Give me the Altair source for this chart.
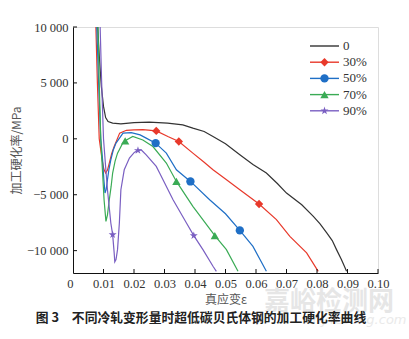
import altair as alt
import pandas as pd

series = ["0", "30%", "50%", "70%", "90%"]

x_0 = [0.0081, 0.0086, 0.0093, 0.0100, 0.0107, 0.0115, 0.0130, 0.0157, 0.0200, 0.0250, 0.0310, 0.0360,
       0.0393, 0.0430, 0.0459, 0.0500, 0.0547, 0.0590, 0.0634, 0.0670, 0.0700, 0.0750, 0.0788, 0.0810,
       0.0832, 0.0850, 0.0864, 0.0880, 0.0897]
y_0 = [10000, 7500, 4670, 2900, 1900, 1550, 1400, 1340, 1450, 1500, 1400, 1250,
       955, 650, 205, -450, -1430, -2300, -3060, -4000, -4850, -5900, -6940, -7600,
       -8420, -9100, -9910, -10800, -11850]

x_30 = [0.0075, 0.0080, 0.0086, 0.0095, 0.0101, 0.0107, 0.0113, 0.0119, 0.0127, 0.0135, 0.0153, 0.0175,
        0.0200, 0.0229, 0.0273, 0.0311, 0.0347, 0.0393, 0.0430, 0.0459, 0.0500, 0.0547, 0.0610, 0.0667,
        0.0711, 0.0766, 0.0804]
y_30 = [10000, 5000, 0, -1800, -2700, -3060, -2800, -2170, -1300, -690, 510, 760,
        800, 820, 710, 205, -240, -1280, -2100, -2770, -3600, -4550, -5830, -7230,
        -8720, -10200, -11850]

x_50 = [0.0078, 0.0084, 0.0091, 0.0097, 0.0101, 0.0105, 0.0109, 0.0113, 0.0118, 0.0124, 0.0132, 0.0141,
        0.0164, 0.0191, 0.0220, 0.0240, 0.0271, 0.0306, 0.0339, 0.0385, 0.0448, 0.0500, 0.0547, 0.0590,
        0.0634]
y_50 = [10000, 5000, 0, -1875, -3600, -4850, -4500, -3660, -2700, -1875, -1000, -385,
        510, 560, 350, 60, -385, -1280, -2770, -3810, -5450, -6700, -8190, -9620,
        -11850]

x_70 = [0.0082, 0.0086, 0.0091, 0.0097, 0.0102, 0.0108, 0.0113, 0.0119, 0.0125, 0.0130, 0.0138, 0.0146,
        0.0163, 0.0171, 0.0196, 0.0229, 0.0262, 0.0306, 0.0339, 0.0393, 0.0465, 0.0503, 0.0541]
y_70 = [10000, 5000, 0, -3060, -5500, -7380, -6800, -5450, -4260, -3060, -2000, -1280,
        -385, -180, 205, -100, -690, -2170, -3810, -6040, -8660, -9910, -11850]

x_90 = [0.0089, 0.0094, 0.0100, 0.0107, 0.0113, 0.0124, 0.0130, 0.0135, 0.0137, 0.0141, 0.0146, 0.0152,
        0.0157, 0.0168, 0.0185, 0.0201, 0.0213, 0.0224, 0.0240, 0.0273, 0.0284, 0.0328, 0.0372, 0.0396,
        0.0426, 0.0459, 0.0470]
y_90 = [10000, 5000, 0, -2500, -4550, -7530, -8570, -10200, -11000, -10800, -9910, -7530,
        -4550, -2770, -1720, -1220, -1040, -1000, -1430, -2470, -3060, -5450, -7530, -8660,
        -9910, -11400, -11850]

mark_series = ["30%", "30%", "30%", "50%", "50%", "50%", "70%", "70%", "70%", "90%", "90%", "90%"]
mark_x = [0.0273, 0.0347, 0.0610, 0.0271, 0.0385, 0.0547, 0.0171, 0.0339, 0.0465, 0.0130, 0.0213, 0.0396]
mark_y = [710, -240, -5830, -385, -3810, -8190, -180, -3810, -8660, -8570, -1040, -8660]

x_ticks = [0.00, 0.01, 0.02, 0.03, 0.04, 0.05, 0.06, 0.07, 0.08, 0.09, 0.10]
y_ticks = [-10000, -5000, 0, 5000, 10000]

caption = ["图 3　不同冷轧变形量时超低碳贝氏体钢的加工硬化率曲线"]
watermark_text = ["嘉峪检测网"]
watermark_sub = ["AnyTesting.com"]

line_colors = ["#333333", "#e8392b", "#1f6fc6", "#3aab55", "#7a5fc2"]
marker_colors = ["#333333", "#e0402a", "#1a72c8", "#4f7d32", "#4b3b9f"]
STAR = ("M0,-1L0.2245,-0.309L0.951,-0.309L0.363,0.118L0.588,0.809L0,0.382"
        "L-0.588,0.809L-0.363,0.118L-0.951,-0.309L-0.2245,-0.309Z")
shapes = ["circle", "diamond", "circle", "triangle-up", STAR]

rows = []
for s, xs, ys in zip(series, [x_0, x_30, x_50, x_70, x_90], [y_0, y_30, y_50, y_70, y_90]):
    for i, (a, b) in enumerate(zip(xs, ys)):
        rows.append({"series": s, "x": a, "y": b, "o": i})
lines_df = pd.DataFrame(rows)
marks_df = pd.DataFrame({"series": mark_series, "x": mark_x, "y": mark_y})
legend_df = pd.DataFrame({"series": series, "i": list(range(len(series)))})

W, H = 305, 246
xscale = alt.Scale(domain=[0, 0.1], nice=False, zero=False)
yscale = alt.Scale(domain=[-12000, 10000], nice=False, zero=False)
line_color = alt.Color("series:N", scale=alt.Scale(domain=series, range=line_colors), legend=None)
mark_color = alt.Color("series:N", scale=alt.Scale(domain=series, range=marker_colors), legend=None)
mark_shape = alt.Shape("series:N", scale=alt.Scale(domain=series, range=shapes), legend=None)

serif = "Liberation Serif, Times New Roman, serif"
cjk = "Noto Sans CJK SC"

x_axis = alt.Axis(
    values=x_ticks, ticks=False, grid=False, domainColor="#111", domainWidth=1,
    labelFont=serif, labelFontSize=12.5, labelColor="#333", labelPadding=4, labelOverlap=False,
    labelExpr="datum.value == 0 ? '0' : format(datum.value, '.2f')",
    labelAlign={"condition": {"test": "datum.value == 0", "value": "right"}, "value": "center"},
    title="真应变ε", titleFont=cjk, titleFontSize=12, titleFontWeight="normal",
    titleColor="#555", titlePadding=5,
)
y_axis = alt.Axis(
    values=y_ticks, ticks=False, grid=False, domainColor="#111", domainWidth=1,
    labelFont=serif, labelFontSize=12.5, labelColor="#333", labelPadding=5, labelOverlap=False,
    labelExpr="replace(format(datum.value, ','), ',', ' ')",
    title="加工硬化率/MPa", titleFont=cjk, titleFontSize=12, titleFontWeight="normal",
    titleColor="#555", titlePadding=3,
)

lines = alt.Chart(lines_df).mark_line(strokeWidth=1.2, clip=True).encode(
    x=alt.X("x:Q", scale=xscale, axis=x_axis), y=alt.Y("y:Q", scale=yscale, axis=y_axis),
    color=line_color, order="o:Q", detail="series:N"
)

watermark = alt.Chart(pd.DataFrame({"t": watermark_text})).mark_text(
    font=cjk, fontSize=26, fontWeight="bold", color="#e6e6e6", align="center", baseline="middle"
).encode(text="t:N", x=alt.value(256), y=alt.value(275))
watermark2 = alt.Chart(pd.DataFrame({"t": watermark_sub})).mark_text(
    font="DejaVu Sans", fontSize=13, fontStyle="italic", color="#eaeaea", align="center", baseline="middle"
).encode(text="t:N", x=alt.value(282), y=alt.value(293))

cap = alt.Chart(pd.DataFrame({"t": caption})).mark_text(
    font=cjk, fontSize=12.8, fontWeight="bold", color="#222", align="center", baseline="middle"
).encode(text="t:N", x=alt.value(128), y=alt.value(291))

points = alt.Chart(marks_df).mark_point(filled=True, opacity=1, size=70, clip=True).encode(
    x=alt.X("x:Q", scale=xscale, axis=None), y=alt.Y("y:Q", scale=yscale, axis=None),
    color=mark_color, shape=mark_shape
)

xt = alt.Chart(pd.DataFrame({"v": x_ticks[1:]})).mark_rule(color="#111", strokeWidth=1).encode(
    x=alt.X("v:Q", scale=xscale, axis=None), y=alt.value(H), y2=alt.value(H - 4)
)
yt = alt.Chart(pd.DataFrame({"v": y_ticks})).mark_rule(color="#111", strokeWidth=1).encode(
    y=alt.Y("v:Q", scale=yscale, axis=None), x=alt.value(0), x2=alt.value(4)
)

leg_base = alt.Chart(legend_df).transform_calculate(ly="19 + datum.i * 16.2")
leg_lines = leg_base.mark_rule(strokeWidth=1.4).encode(
    y=alt.Y("ly:Q", scale=None, axis=None), x=alt.value(237), x2=alt.value(266), color=line_color
)
leg_pts = leg_base.transform_filter("datum.i > 0").mark_point(filled=True, opacity=1, size=70).encode(
    y=alt.Y("ly:Q", scale=None, axis=None), x=alt.value(251.5), color=mark_color, shape=mark_shape
)
leg_text = leg_base.mark_text(font=serif, fontSize=13, color="#333", align="left", baseline="middle").encode(
    y=alt.Y("ly:Q", scale=None, axis=None), x=alt.value(270), text="series:N"
)

chart = alt.layer(lines, watermark, watermark2, cap, points, xt, yt, leg_lines, leg_pts, leg_text).properties(
    width=W, height=H,
    padding={"left": 73, "top": 27, "right": 31, "bottom": 66},
    autosize=alt.AutoSizeParams(type="none"),
).resolve_axis(x="independent", y="independent").configure_view(stroke=None).configure(background="white")

chart.save("out.html", embed_options={"renderer": "svg", "actions": False})
